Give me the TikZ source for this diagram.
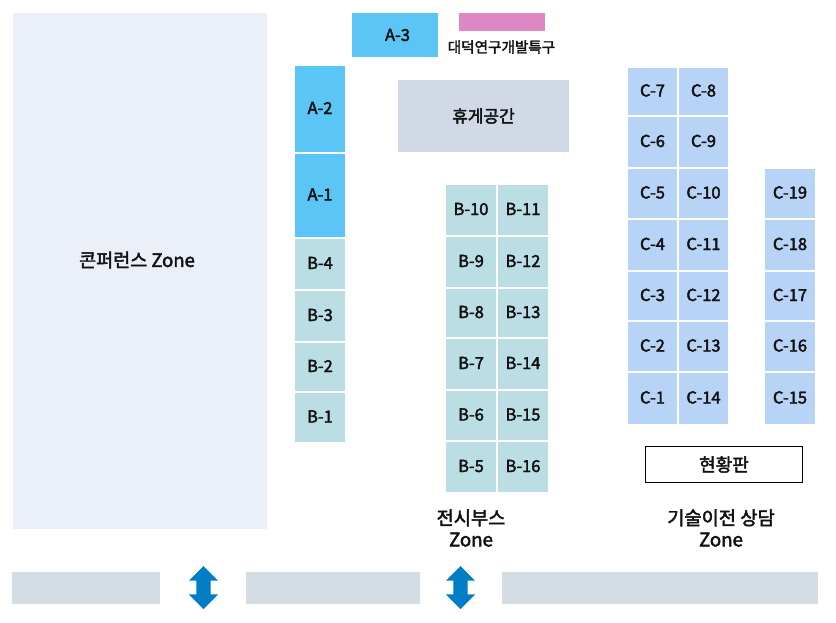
\documentclass[tikz,border=0pt]{standalone}
\usepackage{fontspec}
\setmainfont{Noto Sans CJK KR}
\newfontfamily\medfont[FakeBold=2.4]{Noto Sans CJK KR}
\usetikzlibrary{shapes.arrows}
\definecolor{confzone}{HTML}{EAEFF8}
\definecolor{boothA}{HTML}{5BC5F5}
\definecolor{boothB}{HTML}{BBDEE4}
\definecolor{boothC}{HTML}{B7D4F7}
\definecolor{special}{HTML}{DD88C3}
\definecolor{rest}{HTML}{D0D9E5}
\definecolor{gate}{HTML}{D5DDE4}
\definecolor{updown}{HTML}{007DC5}
\definecolor{ink}{HTML}{111111}
\tikzset{
	lbl/.style={inner sep=0, text=ink, font=\fontsize{16.5}{20}\selectfont\medfont, align=center},
	block/.style={inner sep=0, text=ink, font=\fontsize{16.5}{20}\selectfont\medfont, text height=12, text depth=2, minimum width=#1},
	aBooth/.style={block=50, fill=boothA},
	bBooth/.style={block=50, fill=boothB},
	cBooth/.style={block=49.5, fill=boothC},
	gateBar/.style={fill=gate, minimum height=32, inner sep=0},
	passage/.style={double arrow, rotate=90, fill=updown, inner xsep=0, inner ysep=7, minimum height=43, double arrow head extend=7.5, double arrow head indent=0}
}
\begin{document}
\begin{tikzpicture}[x=1pt, y=1pt]
		\useasboundingbox (0,0) rectangle (836,-622);
		\node[lbl, fill=confzone, minimum width=254, minimum height=516] (conf) at (140,-271) {};
		\node[lbl, font=\fontsize{18.5}{22}\selectfont\medfont] (confText) at (137,-260) {콘퍼런스 Zone};
		\node[aBooth, minimum width=86, minimum height=44] (a3) at (395,-35) {};
		\node[lbl] (a3Text) at (397.5,-35) {A-3};
		\node[fill=special, minimum width=86, minimum height=18, inner sep=0] (special) at (502,-22) {};
		\node[lbl, font=\fontsize{14.6}{18}\selectfont\medfont] (specialText) at (501.5,-47) {대덕연구개발특구};
		\node[lbl, fill=rest, minimum width=171, minimum height=72, font=\fontsize{17}{20}\selectfont\medfont] (rest) at (483.5,-116) {휴게공간};
		% A, B-1 ~ B-4
		\node[aBooth, minimum height=86] (a2) at (320,-109) {A-2};
		\node[aBooth, minimum height=83] (a1) at (320,-195.5) {A-1};
		\node[bBooth, minimum height=50] (b4) at (320,-264) {B-4};
		\node[bBooth, minimum height=50] (b3) at (320,-316) {B-3};
		\node[bBooth, minimum height=48] (b2) at (320,-367) {B-2};
		\node[bBooth, minimum height=49] (b1) at (320,-417.5) {B-1};
		% B-5 ~ B-16
		\node[bBooth, minimum height=50] (b10) at (471,-210) {B-10};
		\node[bBooth, minimum height=50] (b11) at (523,-210) {B-11};
		\node[bBooth, minimum height=50] (b9) at (471,-262) {B-9};
		\node[bBooth, minimum height=50] (b12) at (523,-262) {B-12};
		\node[bBooth, minimum height=48] (b8) at (471,-313) {B-8};
		\node[bBooth, minimum height=48] (b13) at (523,-313) {B-13};
		\node[bBooth, minimum height=50] (b7) at (471,-364) {B-7};
		\node[bBooth, minimum height=50] (b14) at (523,-364) {B-14};
		\node[bBooth, minimum height=49] (b6) at (471,-415.5) {B-6};
		\node[bBooth, minimum height=49] (b15) at (523,-415.5) {B-15};
		\node[bBooth, minimum height=50] (b5) at (471,-467) {B-5};
		\node[bBooth, minimum height=50] (b16) at (523,-467) {B-16};
		% C-1 ~ C-14
		\node[cBooth, minimum height=47] (c7) at (652.5,-91.5) {C-7};
		\node[cBooth, minimum height=47] (c8) at (703.5,-91.5) {C-8};
		\node[cBooth, minimum height=50] (c6) at (652.5,-142) {C-6};
		\node[cBooth, minimum height=50] (c9) at (703.5,-142) {C-9};
		\node[cBooth, minimum height=49] (c5) at (652.5,-193.5) {C-5};
		\node[cBooth, minimum height=49] (c10) at (703.5,-193.5) {C-10};
		\node[cBooth, minimum height=50] (c4) at (652.5,-245) {C-4};
		\node[cBooth, minimum height=50] (c11) at (703.5,-245) {C-11};
		\node[cBooth, minimum height=48] (c3) at (652.5,-296) {C-3};
		\node[cBooth, minimum height=48] (c12) at (703.5,-296) {C-12};
		\node[cBooth, minimum height=49] (c2) at (652.5,-346.5) {C-2};
		\node[cBooth, minimum height=49] (c13) at (703.5,-346.5) {C-13};
		\node[cBooth, minimum height=51] (c1) at (652.5,-398.5) {C-1};
		\node[cBooth, minimum height=51] (c14) at (703.5,-398.5) {C-14};
		% C-15 ~ C-19
		\node[bBooth, fill=boothC, minimum height=49] (c19) at (790,-193.5) {C-19};
		\node[bBooth, fill=boothC, minimum height=50] (c18) at (790,-245) {C-18};
		\node[bBooth, fill=boothC, minimum height=48] (c17) at (790,-296) {C-17};
		\node[bBooth, fill=boothC, minimum height=49] (c16) at (790,-346.5) {C-16};
		\node[bBooth, fill=boothC, minimum height=51] (c15) at (790,-398.5) {C-15};
		\node[lbl, draw=black, line width=0.8, minimum width=157, minimum height=36, font=\fontsize{18}{20}\selectfont\medfont] (board) at (724,-464.5) {현황판};
		\node[lbl, font=\fontsize{18.7}{21.5}\selectfont\medfont] (zoneB) at (471,-528) {전시부스\\Zone};
		\node[lbl, font=\fontsize{18.7}{21.5}\selectfont\medfont] (zoneC) at (721,-528) {기술이전 상담\\Zone};
		% bottom
		\node[gateBar, minimum width=148] (bar1) at (86,-588) {};
		\node[gateBar, minimum width=174] (bar2) at (333,-588) {};
		\node[gateBar, minimum width=316] (bar3) at (660,-588) {};
		\node[passage] (door1) at (203.5,-587.5) {};
		\node[passage] (door2) at (460.5,-587.5) {};
	\end{tikzpicture}
\end{document}
